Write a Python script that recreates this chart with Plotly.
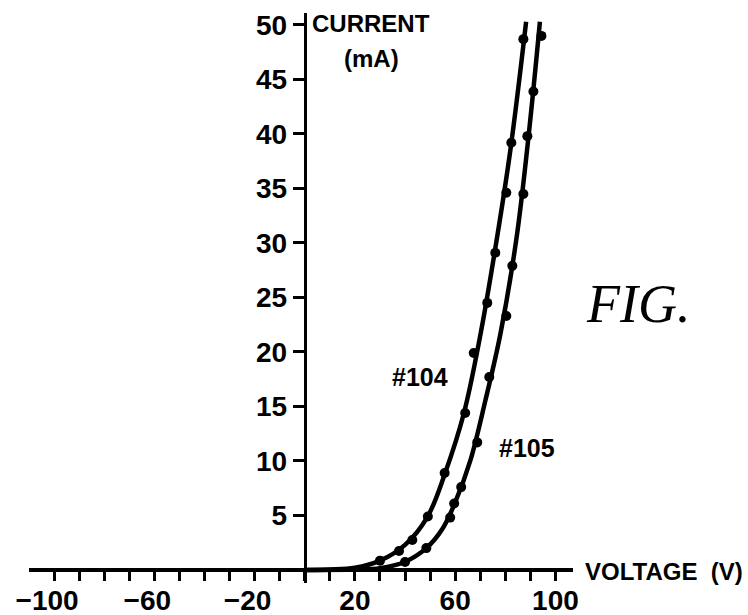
import plotly.graph_objects as go

# Device #104 measured points (voltage V, current mA)
v104 = [30, 37.6, 42.9, 49.1, 55.8, 64, 67.4, 72.8, 76, 80.4, 82.4, 87.2]
i104 = [0.85, 1.74, 2.75, 4.9, 8.9, 14.4, 19.9, 24.5, 29.1, 34.6, 39.2, 48.7]
# Device #105 measured points
v105 = [40, 48.5, 58, 59.6, 62.4, 68.8, 73.6, 80.4, 82.8, 87.2, 88.8, 91.2, 94.4]
i105 = [0.73, 2.0, 4.8, 6.1, 7.6, 11.7, 17.7, 23.3, 27.9, 34.5, 39.8, 43.9, 49.0]

# Drawn (fitted) curves
cv104 = [0, 20, 30, 40, 49, 56, 63.5, 70, 76, 82, 88.3]
ci104 = [0, 0.2, 0.85, 2.3, 4.9, 8.9, 14.4, 21.5, 29.5, 38.5, 50.3]
cv105 = [0, 20, 30, 40, 48.5, 55, 60, 66, 72, 78, 84.5, 89.5, 93.8]
ci105 = [0, 0.03, 0.15, 0.75, 2.0, 3.8, 6.2, 10, 15.5, 21.6, 30.5, 40.3, 50.3]

x_tickvals = list(range(-100, 101, 10))
x_ticktext = ["\u2212100\u2002", "", "", "", "\u221260\u2002", "", "", "", "\u221220\u2002", "", "", "",
              "20", "", "", "", "60", "", "", "", "100"]
y_tickvals = [5, 10, 15, 20, 25, 30, 35, 40, 45, 50]

FONT = "Liberation Sans, Arial, sans-serif"

fig = go.Figure()
for cv, ci in ((cv104, ci104), (cv105, ci105)):
    fig.add_trace(go.Scatter(x=cv, y=ci, mode="lines",
                             line=dict(color="black", width=4.5, shape="spline", smoothing=1.0),
                             hoverinfo="skip", showlegend=False, cliponaxis=False))
for v, i in ((v104, i104), (v105, i105)):
    fig.add_trace(go.Scatter(x=v, y=i, mode="markers",
                             marker=dict(color="black", size=10),
                             showlegend=False, cliponaxis=False))

xr = [-110, 107]
yr = [-1.2, 51.1]

fig.update_layout(
    width=748, height=615,
    margin=dict(l=29, r=175, t=13, b=32, autoexpand=False),
    paper_bgcolor="white", plot_bgcolor="white",
    font=dict(family=FONT, color="black", size=27, weight="bold"),
    xaxis=dict(range=xr, domain=[0, 1], anchor="free", automargin=False,
               position=(0 - yr[0]) / (yr[1] - yr[0]),
               showgrid=False, zeroline=False,
               showline=True, linecolor="black", linewidth=4,
               ticks="outside", ticklen=9, tickwidth=2.5, tickcolor="black",
               tickvals=x_tickvals, ticktext=x_ticktext,
               tickfont=dict(family=FONT, size=28, color="black", weight="bold"),
               ticklabelstandoff=-5),
    yaxis=dict(range=yr, domain=[0, 1], anchor="free", automargin=False,
               position=(0 - xr[0]) / (xr[1] - xr[0]),
               showgrid=False, zeroline=False,
               showline=True, linecolor="black", linewidth=3,
               ticks="outside", ticklen=11, tickwidth=2.5, tickcolor="black",
               tickvals=y_tickvals, ticktext=[str(t) for t in y_tickvals],
               tickfont=dict(family=FONT, size=28, color="black", weight="bold")),
)

# text labels placed in paper coordinates (plot area spans 29..573 px by 13..583 px)
def px(xp):
    return (xp - 29) / 544.0

def py(yp):
    return (583 - yp) / 570.0

ann = [
    ("CURRENT", 371, 23, 24),
    ("(mA)", 371, 58, 24),
    ("#104", 420, 377, 25),
    ("#105", 527, 448, 25),
    ("VOLTAGE  (V)", 664, 571, 24),
]
for text, x, y, size in ann:
    fig.add_annotation(x=px(x), y=py(y), xref="paper", yref="paper", text=text, showarrow=False,
                       font=dict(family=FONT, size=size, color="black", weight="bold"),
                       xanchor="center", yanchor="middle")
fig.add_annotation(x=px(638), y=py(304), xref="paper", yref="paper", text="<i>FIG.</i>", showarrow=False,
                   font=dict(family="Liberation Serif, DejaVu Serif, serif", size=54, color="black",
                             weight="normal"),
                   xanchor="center", yanchor="middle")

fig.write_html("out.html", config={"displayModeBar": False},
               post_script="document.body.style.margin='0px';")
